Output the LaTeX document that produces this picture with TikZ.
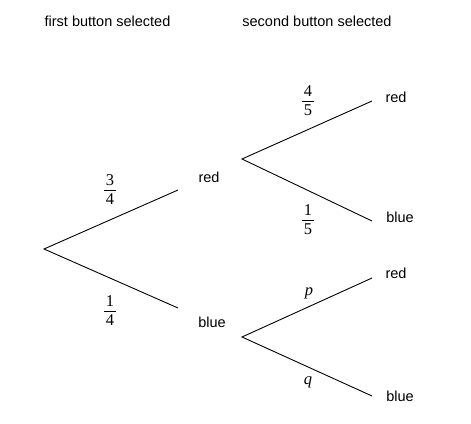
\documentclass[tikz,border=0pt]{standalone}
\usepackage{fontspec}
\setmainfont{Liberation Serif}
\setsansfont{Liberation Sans}
\newcommand\myfr[2]{\begin{tabular}{@{\hspace{1.5pt}}c@{\hspace{1.5pt}}}#1\\[-1pt]\hline\rule{0pt}{14pt}#2\end{tabular}}
\tikzset{
  lbl/.style={font=\sffamily\fontsize{14.5}{17}\selectfont, inner sep=0pt},
  prob/.style={font=\rmfamily\fontsize{16.5}{19}\selectfont, inner sep=0pt},
  branch/.style={draw=black, line width=0.9pt}
}
\begin{document}
\begin{tikzpicture}[x=1pt,y=-1pt]
\useasboundingbox (0,0) rectangle (471,423);
\node[lbl] (h1) at (107.5,21) {first button selected};
\node[lbl] (h2) at (317,21) {second button selected};
\coordinate (r) at (44,249);
\coordinate (a) at (178,190);
\coordinate (b) at (178,308);
\coordinate (c) at (242,159);
\coordinate (d) at (242,337);
\coordinate (ca) at (372,101);
\coordinate (cb) at (372,221);
\coordinate (da) at (372,278);
\coordinate (db) at (372,396);
\draw[branch] (a) -- (r) -- (b);
\draw[branch] (ca) -- (c) -- (cb);
\draw[branch] (da) -- (d) -- (db);
\node[lbl] (l1) at (209,177) {red};
\node[lbl] (l2) at (212,322) {blue};
\node[lbl] (l3) at (396,97) {red};
\node[lbl] (l4) at (400,217) {blue};
\node[lbl] (l5) at (396,273) {red};
\node[lbl] (l6) at (400,396) {blue};
\node[prob] (p1) at (110,191) {\myfr{3}{4}};
\node[prob] (p2) at (110,312) {\myfr{1}{4}};
\node[prob] (p3) at (308,102) {\myfr{4}{5}};
\node[prob] (p4) at (308,221) {\myfr{1}{5}};
\node[prob] (p5) at (309,293) {\itshape p};
\node[prob] (p6) at (308,382) {\itshape q};
\end{tikzpicture}
\end{document}
